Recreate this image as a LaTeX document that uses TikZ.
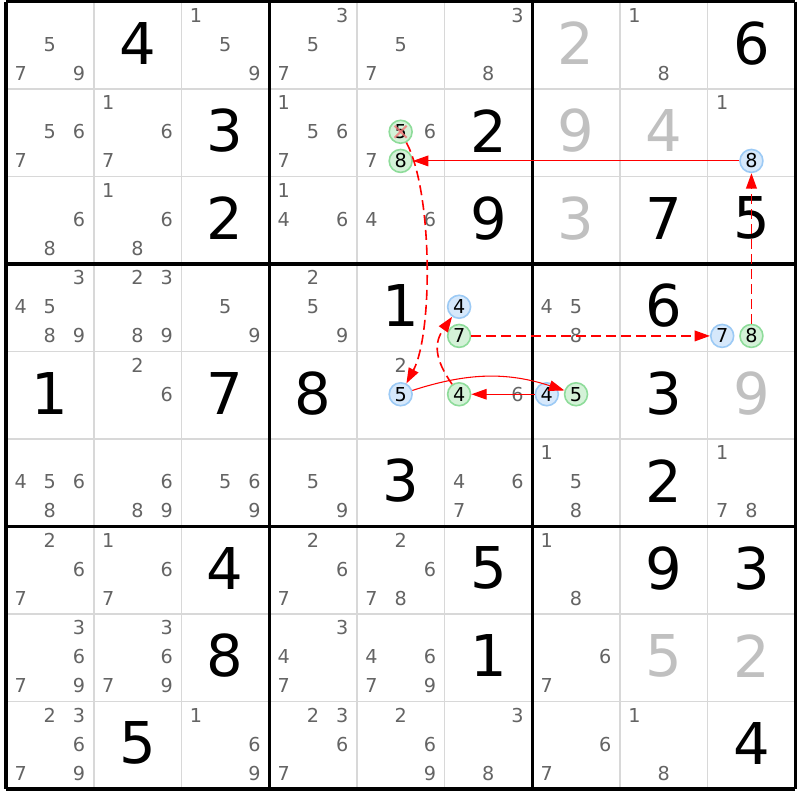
\documentclass[tikz,border=0pt]{standalone}
\usepackage{fontspec}
\setmainfont{DejaVu Sans}
\usetikzlibrary{arrows.meta}
\definecolor{candgray}{HTML}{646464}
\definecolor{solvedgray}{HTML}{C0C0C0}
\definecolor{gridgray}{HTML}{D8D8D8}
\definecolor{bluefill}{HTML}{D6E8FB}
\definecolor{bluedraw}{HTML}{9CCAF5}
\definecolor{greenfill}{HTML}{D4F2D8}
\definecolor{greendraw}{HTML}{8EDC9A}
\definecolor{chainred}{HTML}{FF0000}
\definecolor{crosspink}{HTML}{F07878}
\newcommand\smallfont{\fontsize{14.4}{14.4}\selectfont}
\newcommand\bigfont{\fontsize{43.2}{43.2}\selectfont}
\newcommand\givenat[3]{\node[givenstyle] (g#1#2) at ({6+(#2-0.5)*87.7},{1.5+(#1-0.5)*87.5-2}) {#3};}
\newcommand\solvedat[3]{\node[solvedstyle] (s#1#2) at ({6+(#2-0.5)*87.7},{1.5+(#1-0.5)*87.5-2}) {#3};}
\newcommand\candsat[3]{\foreach \d in {#3}{%
  \pgfmathtruncatemacro\jj{mod(\d-1,3)}%
  \pgfmathtruncatemacro\ii{floor((\d-1)/3)}%
  \node[candstyle] (k#1#2\d) at ({6+(#2-1)*87.7+(\jj+0.5)*29.233},{1.5+(#1-1)*87.5+(\ii+0.5)*29.167-1}) {\d};}}
\newcommand\circledat[5]{%
  \pgfmathtruncatemacro\jj{mod(#4-1,3)}%
  \pgfmathtruncatemacro\ii{floor((#4-1)/3)}%
  \node[#5] (#1) at ({6+(#3-1)*87.7+(\jj+0.5)*29.233},{1.5+(#2-1)*87.5+(\ii+0.5)*29.167-1}) {#4};}
\tikzset{
  givenstyle/.style={inner sep=0pt, text=black, font=\bigfont},
  solvedstyle/.style={inner sep=0pt, text=solvedgray, font=\bigfont},
  candstyle/.style={inner sep=0pt, text=candgray, font=\smallfont},
  bluecand/.style={circle, inner sep=0pt, minimum size=17.2pt, fill=bluefill, draw=bluedraw, line width=1.2pt, text=black, font=\smallfont},
  greencand/.style={circle, inner sep=0pt, minimum size=17.2pt, fill=greenfill, draw=greendraw, line width=1.2pt, text=black, font=\smallfont},
  chainarrow/.style={draw=chainred, line width=0.8pt, -{Triangle[length=11.5pt,width=8pt]}},
  chaindashed/.style={chainarrow, line width=1.2pt, dash pattern=on 7.5pt off 3.75pt},
  thinline/.style={draw=gridgray, line width=1.2pt},
  thickline/.style={draw=black, line width=2.4pt},
  crossline/.style={draw=crosspink, line width=1.5pt, opacity=0.8}
}
\begin{document}
\begin{tikzpicture}[x=0.75pt,y=-0.75pt]
\useasboundingbox (0,0) rectangle (800,800);
\fill[white] (0,0) rectangle (800,800);
% grid
\foreach \i in {1,2,4,5,7,8}{
  \draw[thinline] ({6+\i*87.7},1.5) -- ({6+\i*87.7},789);
  \draw[thinline] (6,{1.5+\i*87.5}) -- (795.3,{1.5+\i*87.5});
}
\foreach \i in {0,3,6,9}{
  \draw[thickline] ({6+\i*87.7},1.5) -- ({6+\i*87.7},789);
  \draw[thickline] (6,{1.5+\i*87.5}) -- (795.3,{1.5+\i*87.5});
}
% givens
\givenat{1}{2}{4}\givenat{1}{9}{6}
\givenat{2}{3}{3}\givenat{2}{6}{2}
\givenat{3}{3}{2}\givenat{3}{6}{9}\givenat{3}{8}{7}\givenat{3}{9}{5}
\givenat{4}{5}{1}\givenat{4}{8}{6}
\givenat{5}{1}{1}\givenat{5}{3}{7}\givenat{5}{4}{8}\givenat{5}{8}{3}
\givenat{6}{5}{3}\givenat{6}{8}{2}
\givenat{7}{3}{4}\givenat{7}{6}{5}\givenat{7}{8}{9}\givenat{7}{9}{3}
\givenat{8}{3}{8}\givenat{8}{6}{1}
\givenat{9}{2}{5}\givenat{9}{9}{4}
% solved (gray)
\solvedat{1}{7}{2}\solvedat{2}{7}{9}\solvedat{2}{8}{4}\solvedat{3}{7}{3}
\solvedat{5}{9}{9}\solvedat{8}{8}{5}\solvedat{8}{9}{2}
% candidates
\candsat{1}{1}{5,7,9}\candsat{1}{3}{1,5,9}\candsat{1}{4}{3,5,7}\candsat{1}{5}{5,7}\candsat{1}{6}{3,8}\candsat{1}{8}{1,8}
\candsat{2}{1}{5,6,7}\candsat{2}{2}{1,6,7}\candsat{2}{4}{1,5,6,7}\candsat{2}{5}{6,7}\candsat{2}{9}{1}
\candsat{3}{1}{6,8}\candsat{3}{2}{1,6,8}\candsat{3}{4}{1,4,6}\candsat{3}{5}{4,6}
\candsat{4}{1}{3,4,5,8,9}\candsat{4}{2}{2,3,8,9}\candsat{4}{3}{5,9}\candsat{4}{4}{2,5,9}\candsat{4}{7}{4,5,8}
\candsat{5}{2}{2,6}\candsat{5}{5}{2}\candsat{5}{6}{6}
\candsat{6}{1}{4,5,6,8}\candsat{6}{2}{6,8,9}\candsat{6}{3}{5,6,9}\candsat{6}{4}{5,9}\candsat{6}{6}{4,6,7}\candsat{6}{7}{1,5,8}\candsat{6}{9}{1,7,8}
\candsat{7}{1}{2,6,7}\candsat{7}{2}{1,6,7}\candsat{7}{4}{2,6,7}\candsat{7}{5}{2,6,7,8}\candsat{7}{7}{1,8}
\candsat{8}{1}{3,6,7,9}\candsat{8}{2}{3,6,7,9}\candsat{8}{4}{3,4,7}\candsat{8}{5}{4,6,7,9}\candsat{8}{7}{6,7}
\candsat{9}{1}{2,3,6,7,9}\candsat{9}{3}{1,6,9}\candsat{9}{4}{2,3,6,7}\candsat{9}{5}{2,6,9}\candsat{9}{6}{3,8}\candsat{9}{7}{6,7}\candsat{9}{8}{1,8}
% highlighted candidates
\circledat{a}{2}{9}{8}{bluecand}
\circledat{b}{2}{5}{8}{greencand}
\circledat{bf}{2}{5}{5}{greencand}
\circledat{c}{5}{5}{5}{bluecand}
\circledat{d}{5}{7}{5}{greencand}
\circledat{e}{5}{7}{4}{bluecand}
\circledat{f}{5}{6}{4}{greencand}
\circledat{g}{4}{6}{4}{bluecand}
\circledat{h}{4}{6}{7}{greencand}
\circledat{i}{4}{9}{7}{bluecand}
\circledat{j}{4}{9}{8}{greencand}
% cross on eliminated 5
\draw[crossline] ([shift={(-6,-6)}]bf.center) -- ([shift={(6,6)}]bf.center);
\draw[crossline] ([shift={(-6,6)}]bf.center) -- ([shift={(6,-6)}]bf.center);
% chain
\draw[chainarrow] (a) -- (b);
\draw[chaindashed] (bf) to[out=-62,in=62,looseness=0.6] (c);
\draw[chainarrow] (c) to[bend left=18] (d);
\draw[chainarrow] (e) -- (f);
\draw[chaindashed] (f) to[out=125,in=-125,looseness=1.2] (g);
\draw[chaindashed] (h) -- (i);
\draw[chaindashed] (j) -- (a);
\end{tikzpicture}
\end{document}
